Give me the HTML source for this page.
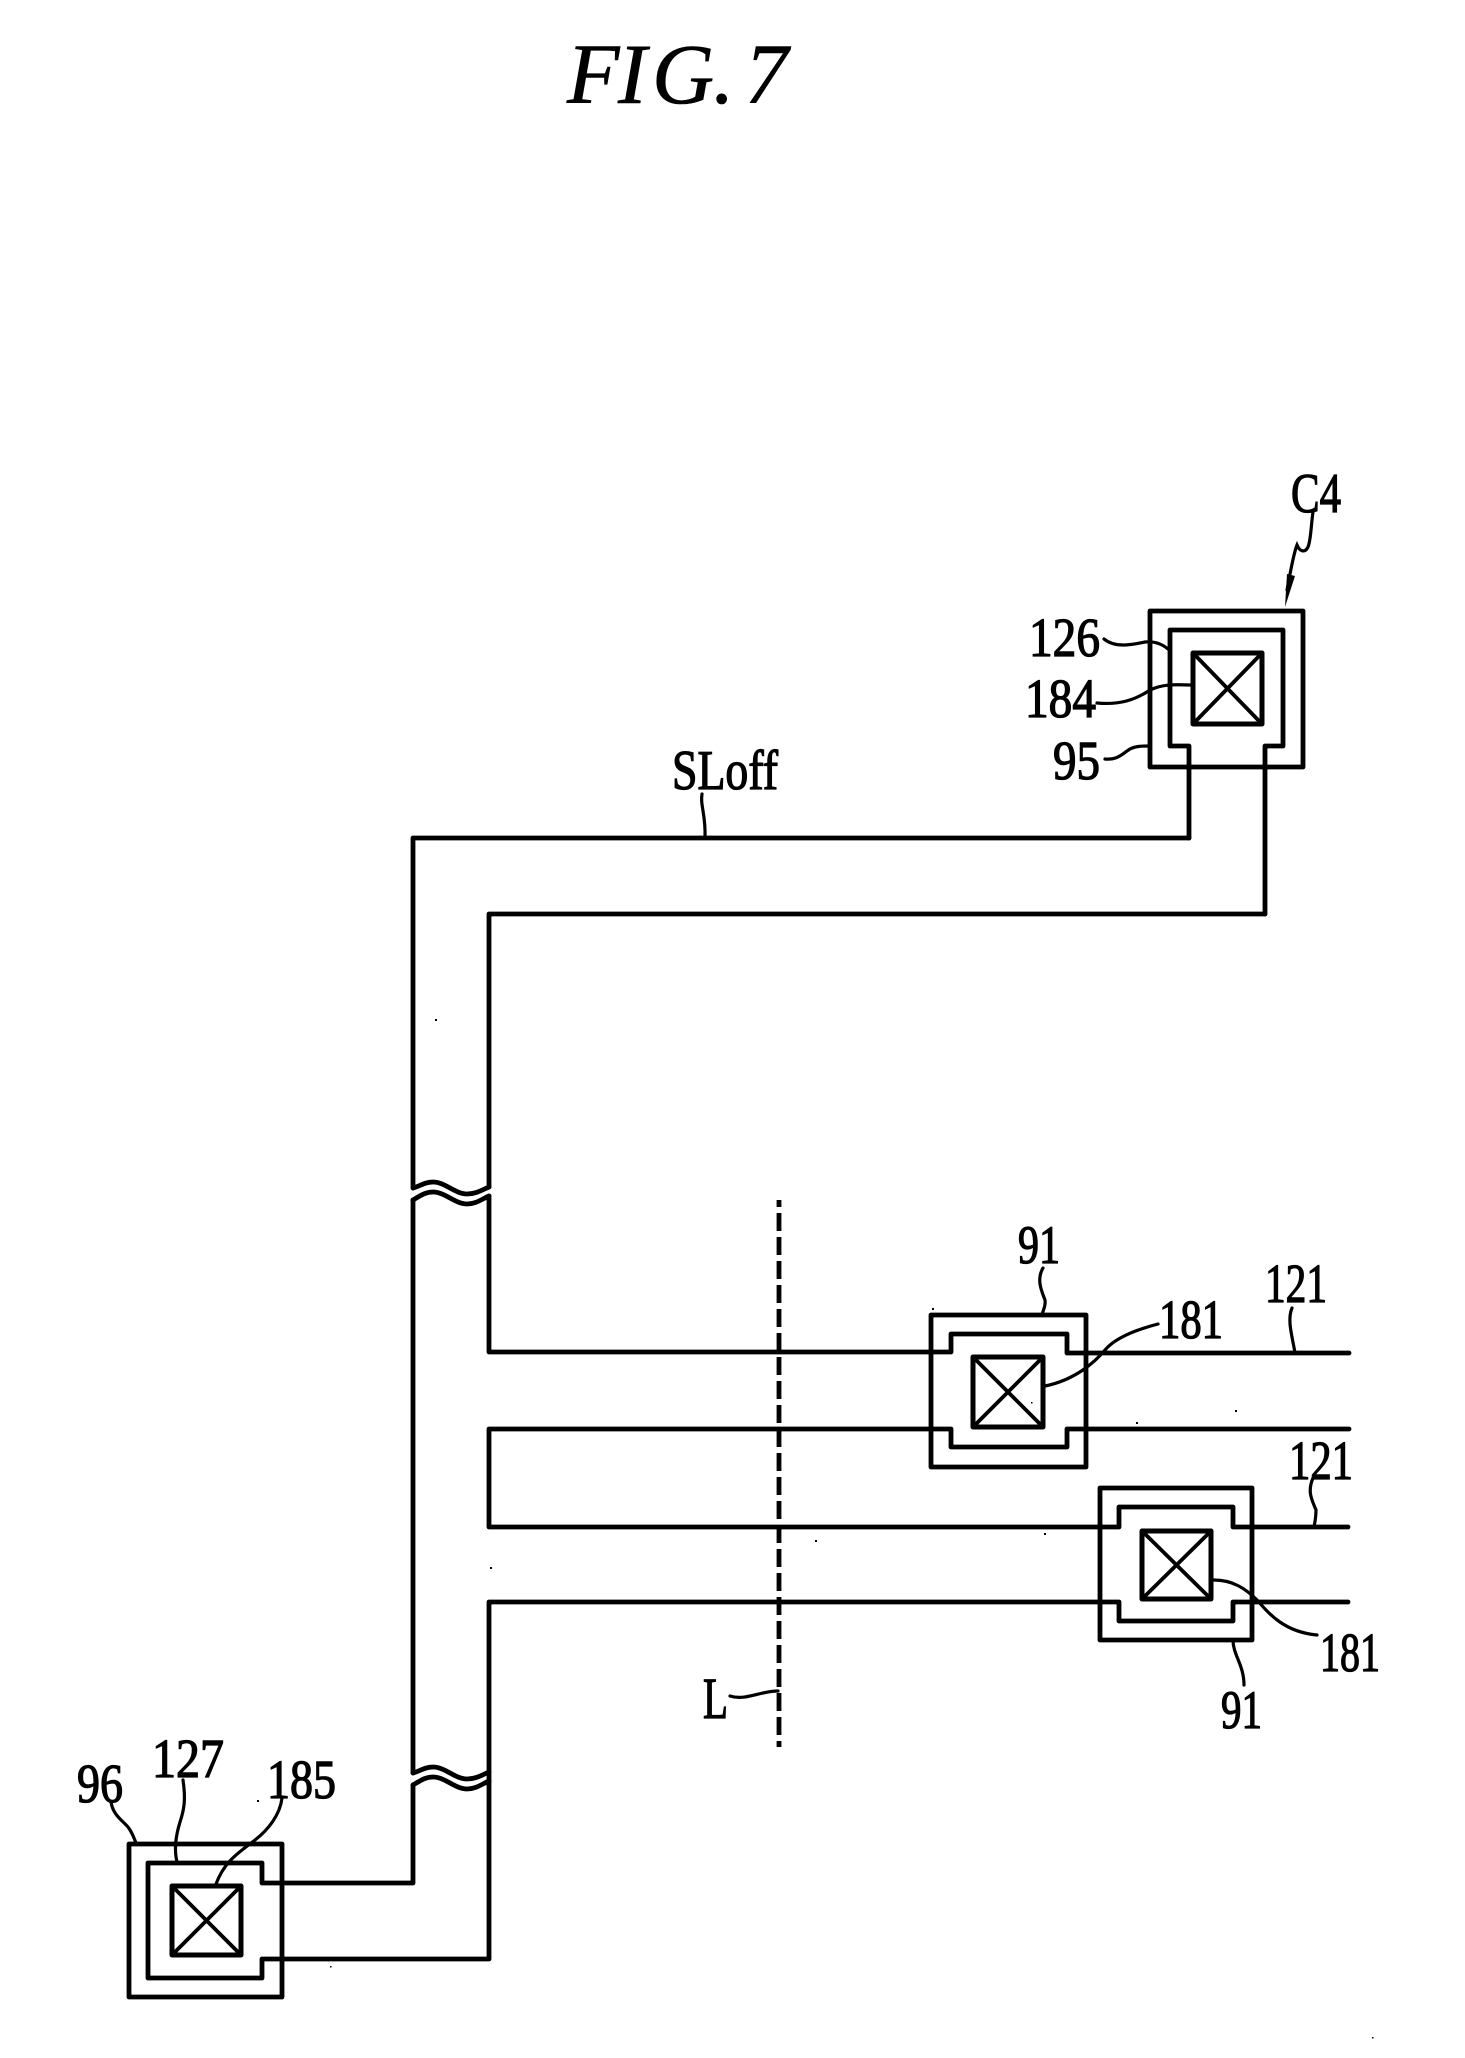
<!DOCTYPE html>
<html><head><meta charset="utf-8"><style>
html,body{margin:0;padding:0;background:#fff}
svg{display:block}
text{font-family:"Liberation Serif",serif;fill:#000;stroke:#000;stroke-width:1.3}
.w{fill:none;stroke:#000;stroke-width:4.8;stroke-linejoin:round;stroke-linecap:round}
.x{fill:none;stroke:#000;stroke-width:3.8;stroke-linecap:round}
.l{fill:none;stroke:#000;stroke-width:3.2;stroke-linecap:round}
</style></head><body>
<svg width="1465" height="2058" viewBox="0 0 1465 2058" xmlns="http://www.w3.org/2000/svg">
<rect width="1465" height="2058" fill="#fff"/>
<text x="567 618 652 713 745" y="103" font-size="86" font-style="italic" style="stroke-width:.6">FIG.7</text>

<!-- C4 pad -->
<rect class="w" x="1150" y="611" width="153" height="156"/>
<path class="w" d="M1189 838V746H1170V630H1283V746H1265V914"/>
<rect class="w" x="1193" y="653" width="69" height="71" style="stroke-width:5"/>
<path class="x" d="M1193 653L1262 724M1262 653L1193 724"/>
<!-- main wires -->
<path class="w" d="M1189 838H413V1188"/>
<path class="w" d="M1265 914H489V1187"/>
<path class="w" d="M413 1188C420 1186 425 1182 433 1182C445 1182 455 1194 467 1194C476 1194 482 1190 489 1187"/>
<path class="w" d="M413 1200C420 1196 425 1192 433 1192C445 1192 455 1204 467 1204C476 1204 482 1199 489 1196"/>
<path class="w" d="M489 1196V1352H951V1334H1067V1353H1349"/>
<path class="w" d="M1349 1429H1067V1447H951V1429H489V1527H1119V1507H1233V1527H1348"/>
<path class="w" d="M1348 1602H1233V1621H1119V1602H489V1781"/>
<path class="w" d="M413 1200V1773"/>
<path class="w" d="M413 1773C420 1771 425 1767 433 1767C445 1767 455 1779 467 1779C476 1779 482 1775 489 1772"/>
<path class="w" d="M413 1785C420 1781 425 1777 433 1777C445 1777 455 1789 467 1789C476 1789 482 1784 489 1781"/>
<path class="w" d="M413 1785V1883H262V1863H148V1978H262V1959H489V1781"/>
<!-- dashed L -->
<path d="M779 1200V1747" fill="none" stroke="#000" stroke-width="4.8" stroke-dasharray="18 6" stroke-dashoffset="11"/>

<!-- box A -->
<rect class="w" x="931" y="1315" width="155" height="152"/>
<rect class="w" x="973" y="1357" width="70" height="70" style="stroke-width:5"/>
<path class="x" d="M973 1357L1043 1427M1043 1357L973 1427"/>
<!-- box B -->
<rect class="w" x="1100" y="1488" width="152" height="152"/>
<rect class="w" x="1142" y="1531" width="69" height="68" style="stroke-width:5"/>
<path class="x" d="M1142 1531L1211 1599M1211 1531L1142 1599"/>
<!-- bottom pad -->
<rect class="w" x="129" y="1844" width="153" height="153"/>
<rect class="w" x="172" y="1886" width="69" height="69" style="stroke-width:5"/>
<path class="x" d="M172 1886L241 1955M241 1886L172 1955"/>

<!-- leaders -->
<path class="l" d="M1313 512C1311 525 1311 540 1308 547C1305 553 1300 552 1297 545C1293 555 1290 575 1287 590"/>
<path d="M1285 607L1287 574L1295 576Z" fill="#000"/>
<path class="l" d="M1104 639C1115 648 1130 645 1145 642C1155 641 1162 644 1168 649"/>
<path class="l" d="M1097 703C1120 705 1135 700 1150 690C1165 683 1178 685 1192 685"/>
<path class="l" d="M1105 759C1118 760 1122 754 1130 749C1136 746 1142 746 1150 746"/>
<path class="l" d="M702 794C700 805 706 815 705 838"/>
<path class="l" d="M1043 1268C1036 1280 1042 1292 1045 1300C1046 1306 1043 1310 1042 1315"/>
<path class="l" d="M1158 1324C1135 1330 1115 1338 1105 1350C1095 1362 1075 1380 1045 1386"/>
<path class="l" d="M1292 1308C1287 1320 1292 1335 1295 1353"/>
<path class="l" d="M1313 1478C1307 1492 1312 1500 1316 1510C1316 1516 1315 1522 1314 1527"/>
<path class="l" d="M1214 1580C1232 1580 1245 1588 1257 1600C1270 1615 1285 1632 1317 1635"/>
<path class="l" d="M1233 1640C1233 1655 1244 1665 1244 1685"/>
<path class="l" d="M730 1696C745 1701 760 1691 778 1691"/>
<path class="l" d="M111 1802C113 1815 122 1820 128 1827C132 1832 134 1838 136 1843"/>
<path class="l" d="M183 1780C186 1800 184 1810 180 1822C176 1835 174 1850 177 1862"/>
<path class="l" d="M282 1798C280 1815 268 1830 255 1840C240 1852 225 1860 216 1884"/>

<!-- labels -->
<text x="1291" y="512" font-size="56" textLength="50" lengthAdjust="spacingAndGlyphs">C4</text>
<text x="1029" y="656" font-size="55" textLength="71" lengthAdjust="spacingAndGlyphs">126</text>
<text x="1025" y="717" font-size="55" textLength="71" lengthAdjust="spacingAndGlyphs">184</text>
<text x="1053" y="779" font-size="55" textLength="47" lengthAdjust="spacingAndGlyphs">95</text>
<text x="672" y="789" font-size="56" textLength="106" lengthAdjust="spacingAndGlyphs">SLoff</text>
<text x="1018" y="1263" font-size="54" textLength="42" lengthAdjust="spacingAndGlyphs">91</text>
<text x="1159" y="1338" font-size="55" textLength="64" lengthAdjust="spacingAndGlyphs">181</text>
<text x="1265" y="1302" font-size="55" textLength="62" lengthAdjust="spacingAndGlyphs">121</text>
<text x="1289" y="1479" font-size="55" textLength="64" lengthAdjust="spacingAndGlyphs">121</text>
<text x="1320" y="1671" font-size="55" textLength="60" lengthAdjust="spacingAndGlyphs">181</text>
<text x="1221" y="1728" font-size="54" textLength="41" lengthAdjust="spacingAndGlyphs">91</text>
<text x="703" y="1718" font-size="58" textLength="25" lengthAdjust="spacingAndGlyphs">L</text>
<text x="77" y="1802" font-size="55" textLength="46" lengthAdjust="spacingAndGlyphs">96</text>
<text x="152" y="1777" font-size="55" textLength="72" lengthAdjust="spacingAndGlyphs">127</text>
<text x="267" y="1798" font-size="55" textLength="69" lengthAdjust="spacingAndGlyphs">185</text>

<!-- specks -->
<g fill="#000">
<rect x="435" y="1019" width="2" height="2"/>
<rect x="490" y="1567" width="2" height="2"/>
<rect x="815" y="1540" width="2" height="2"/>
<rect x="1235" y="1410" width="2" height="2"/>
<rect x="1136" y="1422" width="2" height="2"/>
<rect x="1031" y="1402" width="1.5" height="1.5"/>
<rect x="1044" y="1533" width="2" height="2"/>
<rect x="932" y="1308" width="2" height="2"/>
<rect x="257" y="1800" width="2" height="2"/>
<rect x="330" y="1966" width="1.5" height="1.5"/>
<rect x="1372" y="2037" width="1.5" height="1.5"/>
</g>
</svg>
</body></html>
